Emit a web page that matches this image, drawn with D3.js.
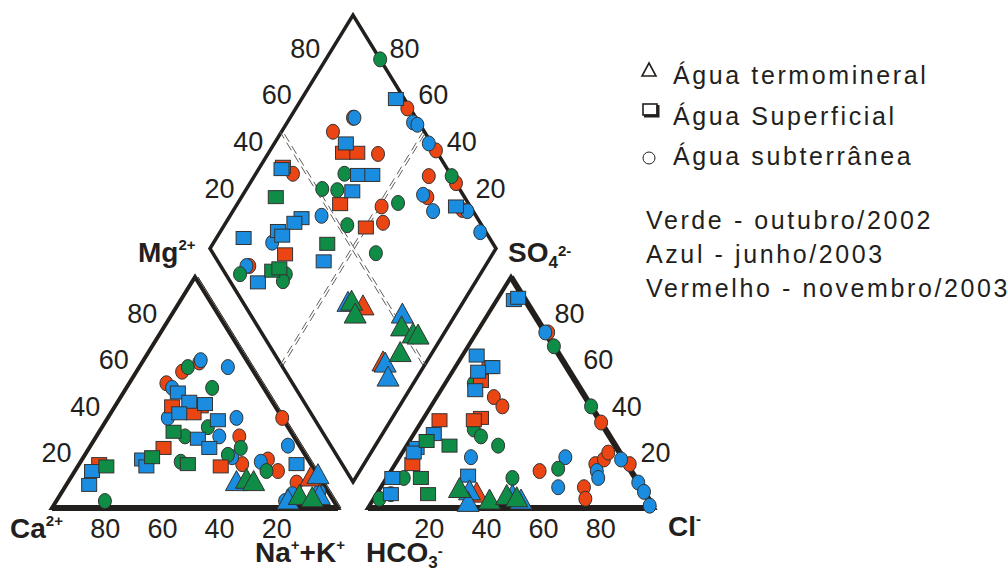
<!DOCTYPE html>
<html>
<head>
<meta charset="utf-8">
<script src="https://d3js.org/d3.v7.min.js"></script>
<style>
  body { margin: 0; background: #fff; }
  text { font-family: "Liberation Sans", Arial, sans-serif; fill: #231f20; }
</style>
</head>
<body>
<svg id="piper" width="1008" height="570"></svg>
<script>
// colour key: g = outubro/2002, b = junho/2003, r = novembro/2003
// cation triangle: [Mg %, Na+K %, colour]
const leftCircles = [
  [59,16,'r'],[61,17,'g'],[63,20,'r'],[64,20,'b'],[61,31,'b'],[54,13,'r'],[52,16,'b'],[52,30,'g'],
  [39,45,'b'],[39,61,'r'],[39,21,'b'],[35,37,'g'],[31,50,'r'],[31,31,'g'],[31,43,'b'],[26,53,'g'],
  [27,69,'b'],[23,50,'g'],[19,57,'r'],[22,52,'b'],[21,65,'r'],[20,63,'b'],[16,67,'g'],[16,71,'r'],
  [20,35,'g'],[3,17,'g'],[11,80,'r'],[6,81,'b'],[7,90,'b'],[3,80,'b']
];
const leftSquares = [
  [50,19,'b'],[46,25,'b'],[44,30,'r'],[45,31,'b'],[44,20,'r'],[41,24,'b'],[41,29,'r'],[38,39,'b'],
  [33,26,'g'],[30,36,'b'],[26,42,'b'],[26,26,'r'],[22,24,'g'],[21,21,'b'],[18,24,'b'],[19,38,'g'],
  [18,50,'r'],[19,76,'b'],[16,6,'b'],[18,10,'g'],[19,7,'r'],[10,8,'b']
];
const leftTriangles = [
  [11,59,'b'],[12,62,'g'],[11,65,'g'],[13,84,'r'],[14,86,'b'],[5,84,'g'],[4,89,'g'],[3,81,'b'],[5,91,'b']
];
// anion triangle: [SO4 %, Cl %, colour]
const rightCircles = [
  [54,10,'g'],[48,20,'r'],[44,25,'r'],[34,20,'g'],[31,24,'g'],[27,32,'g'],[22,25,'b'],[13,6,'g'],
  [4,2,'g'],[6,5,'b'],[13,44,'g'],[16,52,'r'],[22,58,'b'],[17,58,'g'],[9,62,'b'],[9,71,'r'],
  [4,74,'r'],[19,70,'r'],[21,72,'r'],[16,72,'b'],[13,74,'b'],[24,72,'r'],[21,78,'b'],[19,82,'r'],
  [11,89,'b'],[7,93,'b'],[1,98,'b'],[44,56,'g'],[37,63,'r'],[70,30,'g'],[76,25,'r'],[76,24,'b']
];
const rightSquares = [
  [66,5,'b'],[61,12,'r'],[61,13,'b'],[59,9,'b'],[55,12,'r'],[51,12,'b'],[38,6,'r'],[39,20,'r'],
  [38,18,'r'],[32,7,'b'],[26,4,'b'],[24,4,'b'],[29,6,'g'],[27,15,'g'],[19,6,'r'],[13,2,'b'],
  [13,12,'g'],[6,18,'g'],[6,5,'b'],[14,28,'b'],[90,6,'b'],[91,7,'b']
];
const rightTriangles = [
  [8,28,'g'],[7,32,'b'],[6,35,'r'],[3,41,'g'],[5,46,'g'],[4,50,'g'],[3,52,'b'],[2,34,'b'],[5,48,'b']
];
// diamond: [SO4+Cl %, Ca+Mg %, colour]
const diamondCircles = [
  [100,81,'g'],[99,61,'r'],[98,56,'b'],[99,54,'b'],[99,46,'b'],[100,42,'r'],[78,78,'r'],[78.5,77.5,'b'],
  [68,82,'r'],[79,61.5,'r'],[92,39,'r'],[86,37,'b'],[87,35,'r'],[86,30,'b'],[100,31,'g'],[100,28,'r'],
  [98,18,'b'],[96.5,20,'r'],[98,9,'b'],[45,87,'r'],[63,69,'g'],[52,73.5,'g'],[57,68,'g'],[69,49,'r'],
  [75.5,44,'g'],[66,45,'r'],[46,68,'b'],[53,57,'g'],[57,41,'g'],[23,79.5,'b'],[10,82.5,'r'],[9,83.5,'b'],
  [5,84,'g'],[21,68,'g'],[18.5,67.5,'g']
];
const diamondSquares = [
  [97,67,'b'],[70,75,'b'],[67,74,'r'],[72,69,'r'],[67.5,64,'b'],[72.5,59,'b'],[62,62.5,'b'],[55,64,'r'],
  [43,92,'r'],[42,92,'b'],[34,88,'g'],[38.5,74.5,'b'],[35,76,'b'],[27.5,80,'b'],[28,77.5,'b'],[59,50,'r'],
  [42,60,'g'],[37,57.5,'b'],[25,72.5,'r'],[14,90.5,'b'],[17,73.5,'g'],[20,71.5,'g'],[95,23,'b'],[9.5,76,'b']
];
const diamondTriangles = [
  [38,39,'g'],[36.5,40,'b'],[41,34,'r'],[36.5,35,'g'],[53,18.5,'b'],[50,16,'g'],[52.5,10.5,'g'],
  [54,8.5,'g'],[44,11,'g'],[36,15,'r'],[36.5,14,'b'],[34.5,10,'b']
];
const ticks = [20, 40, 60, 80];
const legendTypes = ["Água termomineral", "Água Superficial", "Água subterrânea"];
const legendDates = ["Verde - outubro/2002", "Azul - junho/2003", "Vermelho - novembro/2003"];

const colors = { g: "#0f8c46", b: "#1a8de0", r: "#ea4512" };
const order = { r: 0, b: 1, g: 2 };

const svg = d3.select("svg#piper");
const base = 508, side = 286, triH = 231;
const leftX0 = 52, rightX0 = 368;
const diaB = { x: 353, y: 482 }, diaHW = 143, diaH = 233.5;

const yTri = d3.scaleLinear().domain([0, 100]).range([base, base - triH]);
const xLeft = d3.scaleLinear().domain([0, 100]).range([leftX0, leftX0 + side]);
const xRight = d3.scaleLinear().domain([0, 100]).range([rightX0, rightX0 + side]);
const xDia = d3.scaleLinear().domain([-100, 100]).range([diaB.x - diaHW, diaB.x + diaHW]);
const yDia = d3.scaleLinear().domain([0, 200]).range([diaB.y, diaB.y - 2 * diaH]);

const posLeft = d => [xLeft(d[1] + d[0] / 2), yTri(d[0])];
const posRight = d => [xRight(d[1] + d[0] / 2), yTri(d[0])];
const posDia = d => [xDia(d[0] - d[1]), yDia(d[0] + d[1])];

const ink = "#231f1c";
const frame = svg.append("g");
function triPath(xs) {
  return `M${xs(0)},${yTri(0)}L${xs(100)},${yTri(0)}L${xs(50)},${yTri(100)}Z`;
}
[xLeft, xRight].forEach(xs => {
  frame.append("path").attr("d", triPath(xs))
    .attr("fill", "none").attr("stroke", ink).attr("stroke-width", 4).attr("stroke-linejoin", "miter");
  frame.append("line").attr("x1", xs(0)).attr("x2", xs(100)).attr("y1", base).attr("y2", base)
    .attr("stroke", ink).attr("stroke-width", 6);
});
// thicker right side of anion triangle, thin double line on cation triangle
frame.append("line").attr("x1", xRight(100)).attr("y1", yTri(0)).attr("x2", xRight(50)).attr("y2", yTri(100))
  .attr("stroke", ink).attr("stroke-width", 6);
frame.append("line").attr("x1", xLeft(100) + 3).attr("y1", yTri(0)).attr("x2", xLeft(50) + 3).attr("y2", yTri(100))
  .attr("stroke", ink).attr("stroke-width", 1);

const dia = [[0, 0], [100, 0], [100, 100], [0, 100]].map(posDia);
frame.append("path").attr("d", "M" + dia.join("L") + "Z")
  .attr("fill", "none").attr("stroke", ink).attr("stroke-width", 3.5);

// dashed mid lines of the diamond (double)
[[[50, 0], [50, 100]], [[0, 50], [100, 50]]].forEach(seg => {
  const a = posDia(seg[0]), b = posDia(seg[1]);
  [-1.5, 1.5].forEach((off, i) => {
    frame.append("line")
      .attr("x1", a[0] + off).attr("y1", a[1]).attr("x2", b[0] + off).attr("y2", b[1])
      .attr("stroke", "#5e5e5e").attr("stroke-width", 1)
      .attr("stroke-dasharray", "9,5").attr("stroke-dashoffset", i * 4);
  });
});

// tick labels
const tickFont = 27;
const tl = svg.append("g").style("font-size", tickFont + "px");
ticks.forEach(v => {
  // Ca (bottom of cation triangle)
  tl.append("text").attr("x", xLeft(100 - v) - 4).attr("y", 538).attr("text-anchor", "middle").text(v);
  // Mg (left side of cation triangle)
  tl.append("text").attr("x", xLeft(v / 2) - 9).attr("y", yTri(v)).attr("text-anchor", "end").text(v);
  // Cl (bottom of anion triangle)
  tl.append("text").attr("x", xRight(v) + 4).attr("y", 538).attr("text-anchor", "middle").text(v);
  // SO4 (right side of anion triangle)
  tl.append("text").attr("x", xRight(100 - v / 2) + 15).attr("y", yTri(v)).attr("text-anchor", "start").text(v);
  // diamond upper left
  const pl = posDia([v, 100]);
  tl.append("text").attr("x", pl[0] - 4).attr("y", pl[1] - 4).attr("text-anchor", "end").text(v);
  // diamond upper right
  const pr = posDia([100, v]);
  tl.append("text").attr("x", pr[0] + 8).attr("y", pr[1] - 4).attr("text-anchor", "start").text(v);
});

// axis titles
const titles = svg.append("g").style("font-size", "28px").style("font-weight", "bold");
function title(x, y, parts) {
  const t = titles.append("text").attr("x", x).attr("y", y);
  parts.forEach(p => {
    const s = t.append("tspan").text(p[0]);
    if (p[1] === "sup") s.style("font-size", "15px").attr("dy", -12);
    if (p[1] === "sub") s.style("font-size", "17px").attr("dy", 6);
    if (p[1] === "back") s.attr("dy", p[2]);
  });
}
title(138, 262, [["Mg"], ["2+", "sup"]]);
title(508, 262, [["SO"], ["4", "sub"], ["2-", "sup"]]);
title(10, 538, [["Ca"], ["2+", "sup"]]);
title(668, 536, [["Cl"], ["-", "sup"]]);
title(255, 562, [["Na"], ["+", "sup"], ["+K", "back", 12], ["+", "sup"]]);
title(366, 562, [["HCO"], ["3", "sub"], ["-", "sup"]]);

// markers
const marks = svg.append("g").attr("stroke", "#333").attr("stroke-width", 1);
function draw(data, shape, pos) {
  const sorted = data.slice().sort((a, b) => order[a[2]] - order[b[2]]);
  sorted.forEach(d => {
    const [x, y] = pos(d);
    let el;
    if (shape === "circle") {
      el = marks.append("ellipse").attr("cx", x).attr("cy", y).attr("rx", 6.5).attr("ry", 7.5);
    } else if (shape === "square") {
      el = marks.append("rect").attr("x", x - 7.5).attr("y", y - 6.5).attr("width", 15).attr("height", 13);
    } else {
      el = marks.append("path").attr("d", `M${x},${y - 12}L${x + 11},${y + 8}L${x - 11},${y + 8}Z`);
    }
    el.attr("fill", colors[d[2]]);
  });
}
draw(leftCircles, "circle", posLeft);
draw(leftSquares, "square", posLeft);
draw(leftTriangles, "triangle", posLeft);
draw(rightCircles, "circle", posRight);
draw(rightSquares, "square", posRight);
draw(rightTriangles, "triangle", posRight);
draw(diamondCircles, "circle", posDia);
draw(diamondSquares, "square", posDia);
draw(diamondTriangles, "triangle", posDia);

// legend
const lg = svg.append("g").style("font-size", "25px").style("letter-spacing", "2.6px");
const lgY = [84, 125, 165];
lg.append("path").attr("d", "M649,63L656,76L642,76Z").attr("fill", "none").attr("stroke", ink).attr("stroke-width", 1.6);
lg.append("rect").attr("x", 643).attr("y", 104).attr("width", 14).attr("height", 11)
  .attr("fill", "none").attr("stroke", ink).attr("stroke-width", 1.6);
lg.append("path").attr("d", "M644,116L658,116L658,105").attr("fill", "none").attr("stroke", ink).attr("stroke-width", 3);
lg.append("circle").attr("cx", 649).attr("cy", 158).attr("r", 6).attr("fill", "none").attr("stroke", ink).attr("stroke-width", 1);
legendTypes.forEach((s, i) => {
  lg.append("text").attr("x", 673).attr("y", lgY[i]).text(s);
});
legendDates.forEach((s, i) => {
  lg.append("text").attr("x", 646).attr("y", 229 + i * 34).text(s);
});
</script>
</body>
</html>
